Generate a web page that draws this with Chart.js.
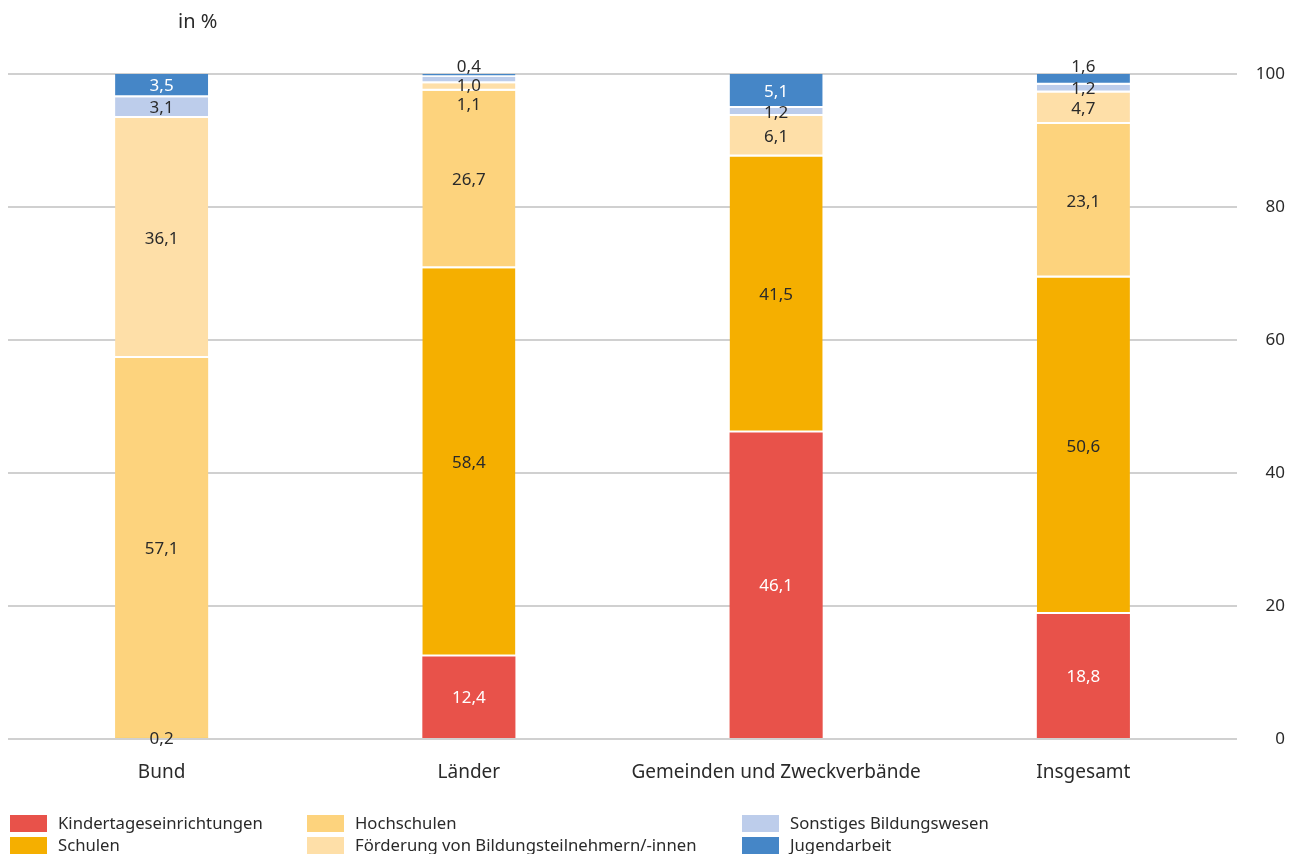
<!DOCTYPE html>
<html>
<head>
<meta charset="utf-8">
<script src="https://cdn.jsdelivr.net/npm/chart.js@4"></script>
<style>
  html, body { margin: 0; padding: 0; background: #fff; }
  #wrap { width: 1303px; height: 854px; }
</style>
</head>
<body>
<div id="wrap"><canvas id="chart" width="1303" height="854"></canvas></div>
<script>
// Categories and shares (in %)
const categories = ['Bund', 'Länder', 'Gemeinden und Zweckverbände', 'Insgesamt'];
const kita = [0, 12.4, 46.1, 18.8];
const schulen = [0.2, 58.4, 41.5, 50.6];
const hochschulen = [57.1, 26.7, 0, 23.1];
const foerderung = [36.1, 1.1, 6.1, 4.7];
const sonstiges = [3.1, 1.0, 1.2, 1.2];
const jugendarbeit = [3.5, 0.4, 5.1, 1.6];
const yTicks = [0, 20, 40, 60, 80, 100];

const seriesNames = [
    'Kindertageseinrichtungen',
    'Schulen',
    'Hochschulen',
    'Förderung von Bildungsteilnehmern/-innen',
    'Sonstiges Bildungswesen',
    'Jugendarbeit'
];
const seriesData = [kita, schulen, hochschulen, foerderung, sonstiges, jugendarbeit];
const seriesColors = ['#E8524A', '#F5AF00', '#FDD37D', '#FEDFA8', '#BDCDEB', '#4586C7'];
const darkSeries = [0, 5]; // white labels on these

const FONT = '"Noto Sans", sans-serif';
const TEXT = '#2a2a2a';

// value labels, pushed apart when small segments crowd at the top
const segmentLabels = {
    id: 'segmentLabels',
    afterDatasetsDraw(chart) {
        const ctx = chart.ctx;
        ctx.save();
        ctx.font = '17px ' + FONT;
        ctx.textAlign = 'center';
        ctx.textBaseline = 'middle';
        chart.data.labels.forEach((_, i) => {
            let prevY = -Infinity;
            let first = true;
            for (let d = chart.data.datasets.length - 1; d >= 0; d--) {
                const v = chart.data.datasets[d].data[i];
                if (!v) continue;
                const bar = chart.getDatasetMeta(d).data[i];
                const h = bar.base - bar.y;
                let y = (bar.y + bar.base) / 2;
                let outside = false;
                if (first && h < 14) {
                    y = bar.y - 8;
                    outside = true;
                } else {
                    y = Math.max(y, prevY + 19);
                }
                const white = darkSeries.includes(d) && !outside && h >= 14;
                ctx.fillStyle = white ? '#ffffff' : TEXT;
                ctx.fillText(v.toFixed(1).replace('.', ','), bar.x, y + 1);
                first = false;
                prevY = y;
            }
        });
        ctx.restore();
    }
};

// unit caption and three-column legend at the bottom
const extras = {
    id: 'extras',
    afterDraw(chart) {
        const ctx = chart.ctx;
        ctx.save();
        ctx.fillStyle = TEXT;
        ctx.font = '20px ' + FONT;
        ctx.textAlign = 'left';
        ctx.textBaseline = 'middle';
        ctx.fillText('in %', 178, 22);

        const cols = [10, 307, 742];
        const rows = [823, 845];
        ctx.font = '16.7px ' + FONT;
        seriesNames.forEach((name, k) => {
            const x = cols[Math.floor(k / 2)];
            const y = rows[k % 2];
            ctx.fillStyle = seriesColors[k];
            ctx.fillRect(x, y - 8, 37, 17);
            ctx.fillStyle = TEXT;
            ctx.fillText(name, x + 48, y + 1);
        });
        ctx.restore();
    }
};

// white gap under each segment except the lowest visible one
function bottomGap(c) {
    const i = c.dataIndex;
    const below = seriesData.slice(0, c.datasetIndex).some(s => s[i] > 0.5);
    return { top: 0, left: 0, right: 0, bottom: below ? 2 : 0 };
}

new Chart(document.getElementById('chart'), {
    type: 'bar',
    data: {
        labels: categories,
        datasets: seriesNames.map((name, k) => ({
            label: name,
            data: seriesData[k],
            backgroundColor: seriesColors[k],
            borderColor: '#ffffff',
            borderWidth: bottomGap,
            borderSkipped: false,
            categoryPercentage: 1,
            barPercentage: 0.303
        }))
    },
    options: {
        responsive: false,
        animation: false,
        layout: { padding: { top: 74, left: 8, right: 18, bottom: 0 } },
        plugins: {
            legend: { display: false },
            tooltip: { enabled: false }
        },
        scales: {
            x: {
                stacked: true,
                grid: { display: false },
                border: { display: false },
                ticks: { color: TEXT, font: { family: FONT, size: 19 }, padding: 14 },
                afterFit(scale) { scale.height = 115; }
            },
            y: {
                stacked: true,
                position: 'right',
                min: 0,
                max: 100,
                afterBuildTicks(scale) { scale.ticks = yTicks.map(v => ({ value: v })); },
                grid: { color: '#D0D0D0', lineWidth: 2, drawTicks: false },
                border: { display: false },
                ticks: {
                    color: TEXT,
                    font: { family: FONT, size: 17 },
                    padding: 18,
                    crossAlign: 'far'
                },
                afterFit(scale) { scale.width = 48; }
            }
        }
    },
    plugins: [segmentLabels, extras]
});
</script>
</body>
</html>
